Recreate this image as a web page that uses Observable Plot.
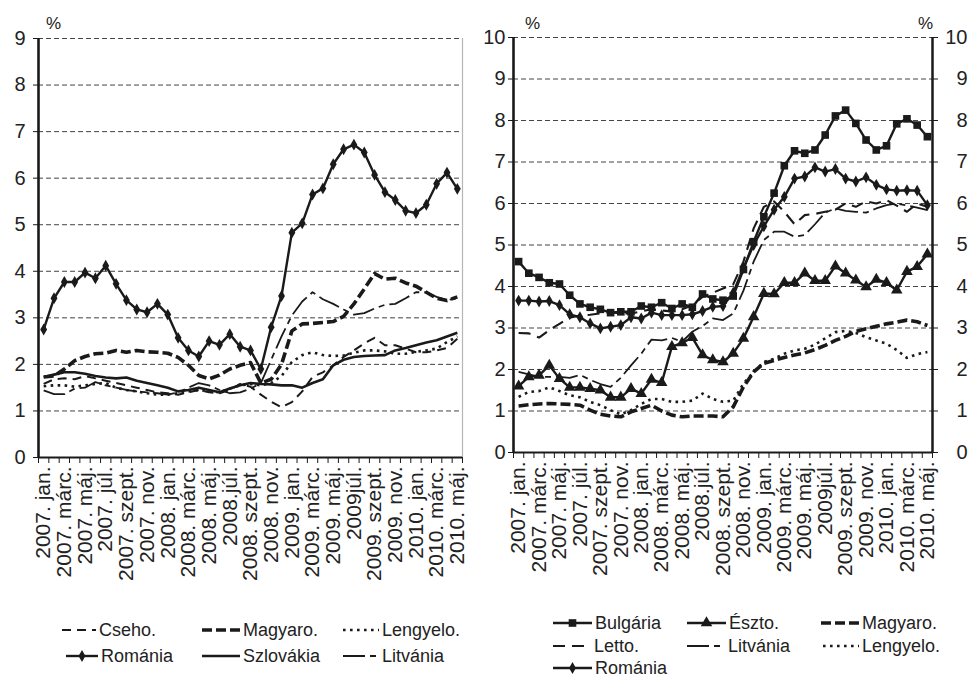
<!DOCTYPE html>
<html><head><meta charset="utf-8">
<script src="https://cdn.jsdelivr.net/npm/d3@7"></script>
<script src="https://cdn.jsdelivr.net/npm/@observablehq/plot@0.6"></script>
<style>
body{margin:0;background:#fff;font-family:"Liberation Sans",Arial,sans-serif;}
#wrap{position:relative;width:969px;height:678px;overflow:hidden;background:#fff;}
.panel{position:absolute;top:0;}
.pct{position:absolute;font-size:17px;color:#222;line-height:1;}
.leg{position:absolute;display:flex;align-items:center;font-size:18px;color:#222;white-space:nowrap;line-height:1;}
.leg svg{display:block;}
</style></head><body><div id="wrap"></div>
<script>
// ---- tick labels (every second month) ----
const monthTicks = ["2007. jan.","2007. márc.","2007. máj.","2007. júl.","2007. szept.","2007. nov.",
  "2008. jan.","2008. márc.","2008. máj.","2008.júl.","2008. szept.","2008. nov.",
  "2009. jan.","2009. márc.","2009. máj.","2009júl.","2009. szept.","2009. nov.",
  "2010. jan.","2010. márc.","2010. máj."];

// ---- left panel series (2007 jan – 2010 máj, monthly) ----
const csehoL     = [1.58,1.68,1.7,1.68,1.75,1.7,1.65,1.6,1.55,1.5,1.45,1.4,1.38,1.35,1.4,1.45,1.4,1.38,1.45,1.58,1.52,1.35,1.2,1.08,1.19,1.42,1.73,1.83,1.98,2.16,2.3,2.45,2.57,2.41,2.41,2.34,2.26,2.26,2.3,2.35,2.55];
const magyaroL   = [1.73,1.75,1.9,2.08,2.17,2.23,2.24,2.3,2.26,2.3,2.27,2.26,2.24,2.15,1.98,1.76,1.69,1.77,1.9,1.98,2.04,1.6,1.68,2.0,2.72,2.87,2.88,2.9,2.92,3.03,3.3,3.62,3.95,3.83,3.85,3.75,3.68,3.55,3.42,3.37,3.45];
const lengyeloL  = [1.53,1.55,1.55,1.52,1.55,1.58,1.6,1.5,1.45,1.42,1.38,1.35,1.35,1.38,1.42,1.45,1.42,1.4,1.48,1.55,1.58,1.55,1.6,1.75,2.05,2.2,2.26,2.2,2.18,2.19,2.25,2.3,2.3,2.28,2.23,2.23,2.27,2.3,2.34,2.48,2.6];
const romaniaL   = [2.75,3.42,3.77,3.77,3.97,3.85,4.12,3.73,3.38,3.18,3.12,3.3,3.07,2.57,2.3,2.17,2.5,2.42,2.65,2.38,2.3,1.9,2.8,3.47,4.83,5.03,5.65,5.78,6.3,6.62,6.72,6.55,6.07,5.7,5.53,5.3,5.25,5.43,5.88,6.12,5.77];
const szlovakiaL = [1.73,1.78,1.83,1.83,1.8,1.75,1.72,1.7,1.72,1.65,1.6,1.55,1.5,1.42,1.45,1.5,1.45,1.4,1.48,1.55,1.6,1.58,1.57,1.55,1.55,1.5,1.6,1.68,1.98,2.1,2.16,2.18,2.19,2.2,2.3,2.35,2.41,2.47,2.52,2.6,2.68];
const litvaniaL  = [1.44,1.36,1.36,1.48,1.5,1.62,1.55,1.5,1.45,1.42,1.4,1.38,1.35,1.4,1.5,1.6,1.55,1.45,1.38,1.4,1.48,1.6,2.1,2.6,3.05,3.35,3.55,3.4,3.3,3.18,3.07,3.1,3.2,3.28,3.3,3.42,3.55,3.55,3.45,3.38,3.42];

// ---- right panel series ----
const bulgariaR  = [4.6,4.32,4.22,4.09,4.06,3.79,3.58,3.5,3.45,3.37,3.39,3.39,3.53,3.5,3.61,3.47,3.58,3.5,3.82,3.7,3.67,3.77,4.41,5.08,5.68,6.25,6.91,7.27,7.21,7.29,7.65,8.11,8.25,7.93,7.53,7.29,7.39,7.92,8.04,7.89,7.61];
const esztoR     = [1.6,1.82,1.86,2.1,1.78,1.57,1.57,1.54,1.5,1.33,1.33,1.54,1.42,1.76,1.68,2.55,2.64,2.77,2.35,2.23,2.18,2.39,2.75,3.27,3.83,3.82,4.09,4.09,4.32,4.14,4.14,4.49,4.32,4.15,3.99,4.17,4.09,3.91,4.36,4.48,4.78];
const magyaroR   = [1.12,1.15,1.17,1.18,1.17,1.16,1.14,1.02,0.92,0.88,0.86,0.98,1.06,1.14,1.0,0.9,0.86,0.88,0.88,0.88,0.86,1.1,1.58,1.94,2.15,2.22,2.29,2.35,2.4,2.48,2.58,2.7,2.8,2.92,2.98,3.04,3.1,3.14,3.19,3.15,3.06];
const lettoR     = [2.88,2.87,2.77,2.95,3.1,3.25,3.3,3.32,3.35,3.38,3.35,3.35,3.4,3.45,3.42,3.4,3.45,3.55,3.75,3.85,3.95,4.05,4.6,5.4,5.92,6.05,5.8,5.5,5.72,5.75,5.8,5.85,6.0,5.92,6.05,6.0,6.08,5.95,5.8,6.0,5.92];
const litvaniaR  = [1.94,1.88,1.82,1.82,1.82,1.8,1.87,1.75,1.65,1.58,1.8,2.1,2.38,2.72,2.7,2.76,2.67,2.91,3.05,3.23,3.19,3.35,3.9,4.6,5.12,5.32,5.32,5.2,5.24,5.5,5.78,5.88,5.82,5.8,5.78,5.88,5.96,6.0,5.95,5.9,5.84];
const lengyeloR  = [1.34,1.46,1.48,1.57,1.48,1.38,1.33,1.22,1.14,1.02,0.92,1.02,1.17,1.29,1.29,1.22,1.22,1.25,1.42,1.29,1.22,1.25,1.66,1.94,2.18,2.26,2.38,2.46,2.5,2.6,2.75,2.9,2.93,2.88,2.78,2.7,2.62,2.47,2.28,2.37,2.42];
const romaniaR   = [3.66,3.66,3.64,3.65,3.55,3.33,3.26,3.11,2.99,3.03,3.07,3.26,3.23,3.37,3.31,3.31,3.31,3.33,3.41,3.51,3.53,3.85,4.45,5.0,5.45,5.85,6.16,6.6,6.65,6.87,6.77,6.83,6.6,6.53,6.63,6.45,6.34,6.31,6.32,6.31,5.96];

// ---- styles ----
const INK = "#1a1a1a";
const ST = {
  cseho:    {strokeWidth: 2,   dash: "9,6"},
  magyaro:  {strokeWidth: 3.6, dash: "10,4"},
  lengyelo: {strokeWidth: 2.6, dash: "2.6,4.4"},
  romania:  {strokeWidth: 2.4, dash: null, symbol: "diamond", r: 3.6},
  szlovakia:{strokeWidth: 2.6, dash: null},
  litvania: {strokeWidth: 1.8, dash: "22,5,6,5"},
  letto:    {strokeWidth: 2.1, dash: "12,7"},
  bulgaria: {strokeWidth: 2.4, dash: null, symbol: "square", r: 4.3},
  eszto:    {strokeWidth: 2.4, dash: null, symbol: "triangle", r: 4.3}
};

function toRows(vals){ return vals.map((v,i)=>({i, v})); }

function panel({width, height, ml, mr, mt, mb, yMax, series, right}) {
  const marks = [
    Plot.gridY({ticks: d3.range(1, yMax + 1), stroke: "#444", strokeOpacity: 1, strokeWidth: 1, strokeDasharray: "5,3"}),
    Plot.axisX({ticks: d3.range(-0.5, 41, 1), tickSize: 6, tickFormat: () => "", label: null, stroke: INK}),
    Plot.axisX({ticks: d3.range(0, 41, 2), tickSize: 0, tickPadding: 9, tickRotate: -90, fontSize: 21,
      tickFormat: i => monthTicks[i / 2], label: null, fill: "#222"}),
    Plot.axisY({ticks: d3.range(0, yMax + 1), anchor: "left", tickSize: 5, tickPadding: right ? 3 : 8,
      fontSize: 20, tickFormat: d => String(d), label: null, fill: "#222", stroke: INK}),
  ];
  if (right) marks.push(Plot.axisY({ticks: d3.range(0, yMax + 1), anchor: "right", tickSize: 5, tickPadding: 30,
      textAnchor: "end", fontSize: 20, tickFormat: d => String(d), label: null, fill: "#222", stroke: INK}));
  marks.push(Plot.ruleX([40.5], {stroke: right ? INK : "#b5b5b5", strokeWidth: right ? 2.5 : 1.2}));
  marks.push(Plot.ruleY([0], {stroke: INK, strokeWidth: 2.2}));
  marks.push(Plot.ruleX([-0.5], {stroke: INK, strokeWidth: 2.6}));
  for (const s of series) {
    const st = ST[s.style];
    const rows = toRows(s.values);
    marks.push(Plot.line(rows, {x: "i", y: "v", stroke: INK, strokeWidth: st.strokeWidth,
      strokeDasharray: st.dash || undefined, strokeLinejoin: "round", strokeLinecap: "butt"}));
    if (st.symbol) marks.push(Plot.dot(rows, {x: "i", y: "v", symbol: st.symbol, r: st.r, fill: INK, stroke: "none"}));
  }
  return Plot.plot({
    width, height, marginLeft: ml, marginRight: mr, marginTop: mt, marginBottom: mb,
    x: {type: "linear", domain: [-0.5, 40.5]},
    y: {type: "linear", domain: [0, yMax]},
    style: {fontFamily: "'Liberation Sans', Arial, sans-serif", background: "transparent", overflow: "visible"},
    marks
  });
}

const wrap = document.getElementById("wrap");

const leftSeries = [
  {name: "Cseho.", style: "cseho", values: csehoL},
  {name: "Lengyelo.", style: "lengyelo", values: lengyeloL},
  {name: "Szlovákia", style: "szlovakia", values: szlovakiaL},
  {name: "Litvánia", style: "litvania", values: litvaniaL},
  {name: "Magyaro.", style: "magyaro", values: magyaroL},
  {name: "Románia", style: "romania", values: romaniaL}
];
const rightSeries = [
  {name: "Lengyelo.", style: "lengyelo", values: lengyeloR},
  {name: "Magyaro.", style: "magyaro", values: magyaroR},
  {name: "Litvánia", style: "litvania", values: litvaniaR},
  {name: "Letto.", style: "letto", values: lettoR},
  {name: "Észto.", style: "eszto", values: esztoR},
  {name: "Románia", style: "romania", values: romaniaR},
  {name: "Bulgária", style: "bulgaria", values: bulgariaR}
];

const p1 = panel({width: 480, height: 600, ml: 38, mr: 18, mt: 38, mb: 143, yMax: 9, series: leftSeries, right: false});
p1.classList.add("panel"); p1.style.left = "0px";
wrap.appendChild(p1);
const p2 = panel({width: 489, height: 600, ml: 33, mr: 37, mt: 37, mb: 148, yMax: 10, series: rightSeries, right: true});
p2.classList.add("panel"); p2.style.left = "480px";
wrap.appendChild(p2);

function addText(cls, txt, x, y) {
  const d = document.createElement("div"); d.className = cls; d.textContent = txt;
  d.style.left = x + "px"; d.style.top = y + "px"; wrap.appendChild(d); return d;
}
addText("pct", "%", 46, 15);
addText("pct", "%", 525, 15);
addText("pct", "%", 918, 15);

// ---- legends ----
function legendItem(label, styleKey, x, yc, sw) {
  const st = ST[styleKey];
  const d = document.createElement("div"); d.className = "leg";
  d.style.left = x + "px"; d.style.top = (yc - 9) + "px"; d.style.height = "18px";
  const ns = "http://www.w3.org/2000/svg";
  const svg = document.createElementNS(ns, "svg");
  svg.setAttribute("width", sw); svg.setAttribute("height", 18);
  const ln = document.createElementNS(ns, "line");
  ln.setAttribute("x1", 0); ln.setAttribute("x2", sw); ln.setAttribute("y1", 9); ln.setAttribute("y2", 9);
  ln.setAttribute("stroke", INK); ln.setAttribute("stroke-width", st.strokeWidth);
  if (st.dash) ln.setAttribute("stroke-dasharray", st.dash);
  svg.appendChild(ln);
  if (st.symbol) {
    const p = document.createElementNS(ns, "path");
    const sym = {diamond: d3.symbolDiamond, square: d3.symbolSquare, triangle: d3.symbolTriangle}[st.symbol];
    p.setAttribute("d", d3.symbol(sym, st.r * st.r * Math.PI)());
    p.setAttribute("transform", `translate(${sw/2},9)`);
    p.setAttribute("fill", INK);
    svg.appendChild(p);
  }
  d.appendChild(svg);
  const t = document.createElement("span"); t.textContent = label; t.style.marginLeft = "3px";
  d.appendChild(t);
  wrap.appendChild(d);
}
// left legend
legendItem("Cseho.", "cseho", 62, 630, 34);
legendItem("Magyaro.", "magyaro", 202, 630, 38);
legendItem("Lengyelo.", "lengyelo", 343, 630, 36);
legendItem("Románia", "romania", 66, 656, 32);
legendItem("Szlovákia", "szlovakia", 202, 656, 38);
legendItem("Litvánia", "litvania", 343, 656, 36);
// right legend
legendItem("Bulgária", "bulgaria", 553, 623, 39);
legendItem("Észto.", "eszto", 687, 623, 39);
legendItem("Magyaro.", "magyaro", 821, 623, 38);
legendItem("Letto.", "letto", 553, 646, 38);
legendItem("Litvánia", "litvania", 687, 646, 38);
legendItem("Lengyelo.", "lengyelo", 823, 646, 36);
legendItem("Románia", "romania", 553, 668, 39);
</script></body></html>
